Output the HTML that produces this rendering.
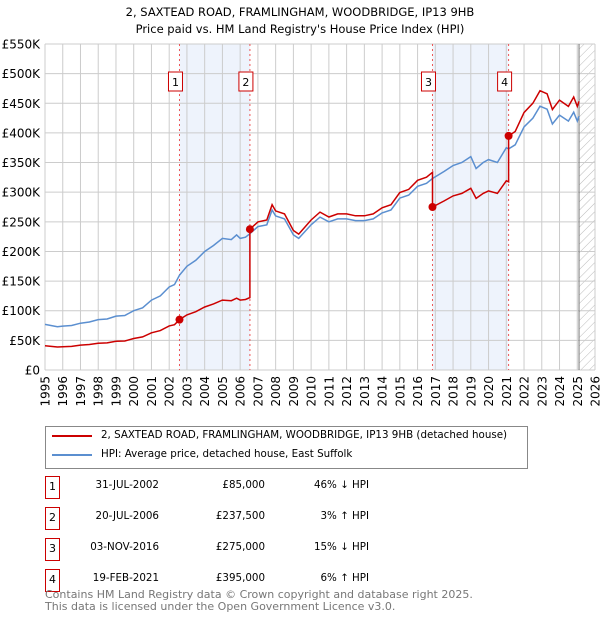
<!DOCTYPE html>
<html><head><meta charset="utf-8"><style>
body{margin:0;background:#fff;font-family:"DejaVu Sans","Liberation Sans",sans-serif;}
#wrap{position:relative;width:600px;height:620px;overflow:hidden;}
.t{position:absolute;white-space:nowrap;font-size:11px;color:#000;}
</style></head><body>
<div id="wrap">
<svg id="chart" width="600" height="420" style="position:absolute;left:0;top:0">
<defs><pattern id="hatch" width="6" height="6" patternUnits="userSpaceOnUse" patternTransform="rotate(45)"><line x1="0" y1="0" x2="0" y2="6" stroke="#bbb" stroke-width="1"/></pattern></defs>
<text x="300" y="16" text-anchor="middle" font-size="11.5">2, SAXTEAD ROAD, FRAMLINGHAM, WOODBRIDGE, IP13 9HB</text>
<text x="300" y="33" text-anchor="middle" font-size="11.5">Price paid vs. HM Land Registry's House Price Index (HPI)</text>
<g id="g"></g>
</svg>
<div style="position:absolute;left:45px;top:426px;width:481px;height:41px;border:1px solid #888;">
 <div style="position:absolute;left:6px;top:8px;width:40px;height:2px;background:#cc0000"></div>
 <div class="t" style="left:55px;top:2px;font-size:10.3px">2, SAXTEAD ROAD, FRAMLINGHAM, WOODBRIDGE, IP13 9HB (detached house)</div>
 <div style="position:absolute;left:6px;top:27px;width:40px;height:2px;background:#5b8fd0"></div>
 <div class="t" style="left:55px;top:21px;font-size:10.3px">HPI: Average price, detached house, East Suffolk</div>
</div>
<div id="tbl"></div>
<div class="t" style="left:45px;top:589px;color:#777;font-size:11px;line-height:12px">Contains HM Land Registry data © Crown copyright and database right 2025.<br>This data is licensed under the Open Government Licence v3.0.</div>
</div>
<script>
const hpiYears=[1995,1995.7,1996,1996.5,1997,1997.5,1998,1998.5,1999,1999.5,2000,2000.5,2001,2001.5,2002,2002.3,2002.58,2003,2003.5,2004,2004.5,2005,2005.5,2005.8,2006,2006.3,2006.55,2007,2007.5,2007.8,2008,2008.5,2009,2009.3,2010,2010.5,2011,2011.5,2012,2012.5,2013,2013.5,2014,2014.5,2015,2015.5,2016,2016.5,2016.84,2017.5,2018,2018.5,2019,2019.3,2019.7,2020,2020.5,2021.0,2021.13,2021.5,2022,2022.5,2022.9,2023.3,2023.6,2024,2024.5,2024.8,2025,2025.1];
const hpiValues=[77,73,74,75,79,81,85,86,91,92,100,105,118,125,140,144,160,175,185,200,210,222,220,228,222,224,230,242,245,270,260,255,228,222,245,258,250,255,255,252,252,255,265,270,290,295,310,315,323,335,345,350,360,340,350,355,350,375,373,380,410,425,445,440,415,430,420,435,420,428];
const saleYears=[2002.58,2006.55,2016.84,2021.13];
const salePrices=[85,237.5,275,395];
const saleLabels=["1","2","3","4"];
const saleDates=["31-JUL-2002","20-JUL-2006","03-NOV-2016","19-FEB-2021"];
const salePriceText=["£85,000","£237,500","£275,000","£395,000"];
const saleHpiText=["46% ↓ HPI","3% ↑ HPI","15% ↓ HPI","6% ↑ HPI"];
const yTicks=[0,50,100,150,200,250,300,350,400,450,500,550];
const yTickLabels=["£0","£50K","£100K","£150K","£200K","£250K","£300K","£350K","£400K","£450K","£500K","£550K"];
const xTicks=[1995,1996,1997,1998,1999,2000,2001,2002,2003,2004,2005,2006,2007,2008,2009,2010,2011,2012,2013,2014,2015,2016,2017,2018,2019,2020,2021,2022,2023,2024,2025,2026];

const X0=45,X1=595,Y0=370,Y1=44;
const xs=y=>X0+(y-1995)/(2026-1995)*(X1-X0);
const ys=v=>Y0-v/550*(Y0-Y1);
const NS="http://www.w3.org/2000/svg";
const g=document.getElementById('g');
function mk(t,a,p){const e=document.createElementNS(NS,t);for(const k in a)e.setAttribute(k,a[k]);(p||g).appendChild(e);return e;}
function hpiAt(t){for(let i=1;i<hpiYears.length;i++){if(t<=hpiYears[i]){const f=(t-hpiYears[i-1])/(hpiYears[i]-hpiYears[i-1]);return hpiValues[i-1]+f*(hpiValues[i]-hpiValues[i-1]);}}return hpiValues[hpiValues.length-1];}
const endYear=hpiYears[hpiYears.length-1];
for(let i=0;i<saleYears.length;i+=2){
 const r=mk('rect',{x:xs(saleYears[i]),y:Y1,width:xs(saleYears[i+1])-xs(saleYears[i]),height:Y0-Y1,fill:'#eef3fc'});
 
 
}
const hr=mk('rect',{x:xs(endYear),y:Y1,width:X1-xs(endYear),height:Y0-Y1,fill:'url(#hatch)'});


yTicks.forEach((v,i)=>{
 const l=mk('line',{x1:X0,x2:X1,y1:ys(v),y2:ys(v),stroke:'#cccccc','stroke-width':1});
 
 
 const t=mk('text',{x:40,y:ys(v)+4.5,'text-anchor':'end','font-size':12});
 t.textContent=yTickLabels[i];
 
 
});
xTicks.forEach(yr=>{
 const l=mk('line',{x1:xs(yr),x2:xs(yr),y1:Y1,y2:Y0,stroke:'#cccccc','stroke-width':1});
 
 
 const t=mk('text',{x:0,y:0,'text-anchor':'end','font-size':12,transform:`translate(${xs(yr)+4.5},376) rotate(-90)`});
 t.textContent=yr;
 
 
});
const el=mk('line',{x1:xs(endYear),x2:xs(endYear),y1:Y1,y2:Y0,stroke:'#777','stroke-width':1});


saleYears.forEach((s,i)=>{
 const l=mk('line',{x1:xs(s),x2:xs(s),y1:Y1,y2:Y0,stroke:'#ee5555','stroke-width':1,'stroke-dasharray':'2,3'});
 
 
 const b=mk('rect',{x:xs(s)-11,y:72,width:14,height:19,fill:'#fff',stroke:'#cc0000','stroke-width':1});
 
 
 const t=mk('text',{x:xs(s)-4,y:86,'text-anchor':'middle','font-size':11});
 t.textContent=saleLabels[i];
 
 
});
const hp=mk('path',{d:hpiYears.map((y,i)=>(i?'L':'M')+xs(y).toFixed(1)+','+ys(hpiValues[i]).toFixed(1)).join(''),fill:'none',stroke:'#5b8fd0','stroke-width':1.5});


function ratioAt(t){let k=0;for(let i=0;i<saleYears.length;i++)if(t>=saleYears[i])k=i;return salePrices[k]/hpiAt(saleYears[k]);}
function prevRatio(j){return j?salePrices[j-1]/hpiAt(saleYears[j-1]):salePrices[0]/hpiAt(saleYears[0]);}
let pts=[];
hpiYears.forEach((y,i)=>{
 saleYears.forEach((s,j)=>{if(s>(i?hpiYears[i-1]:0)&&s<y){pts.push([s,hpiAt(s)*prevRatio(j)]);pts.push([s,salePrices[j]]);}});
 if(saleYears.includes(y)){const j=saleYears.indexOf(y);pts.push([y,hpiValues[i]*prevRatio(j)]);pts.push([y,salePrices[j]]);}
 else pts.push([y,hpiValues[i]*ratioAt(y)]);
});
pts.sort((a,b)=>a[0]-b[0]);
const rp=mk('path',{d:pts.map((p,i)=>(i?'L':'M')+xs(p[0]).toFixed(1)+','+ys(p[1]).toFixed(1)).join(''),fill:'none',stroke:'#cc0000','stroke-width':1.5});


saleYears.forEach((s,i)=>{
 const c=mk('circle',{cx:xs(s),cy:ys(salePrices[i]),r:4,fill:'#cc0000'});
 
 
});
const tbl=document.getElementById('tbl');
const rowY=[476,507,538,569];
saleLabels.forEach((lab,i)=>{
 const y=rowY[i];
 const row=document.createElement('div');
 
 
 row.style.cssText=`position:absolute;left:0;top:${y}px;width:600px;height:20px`;
 row.innerHTML=`<div style="position:absolute;left:45px;top:0;width:13px;height:21px;border:1px solid #cc0000;font-size:11px;text-align:center;line-height:20px">${lab}</div>
 <div class="t" style="right:${600-159}px;top:3px;font-size:10.3px">${saleDates[i]}</div>
 <div class="t" style="right:${600-265}px;top:3px;font-size:10.3px">${salePriceText[i]}</div>
 <div class="t" style="right:${600-369}px;top:3px;font-size:10.3px">${saleHpiText[i]}</div>`;
 tbl.appendChild(row);
});
</script>
</body></html>
